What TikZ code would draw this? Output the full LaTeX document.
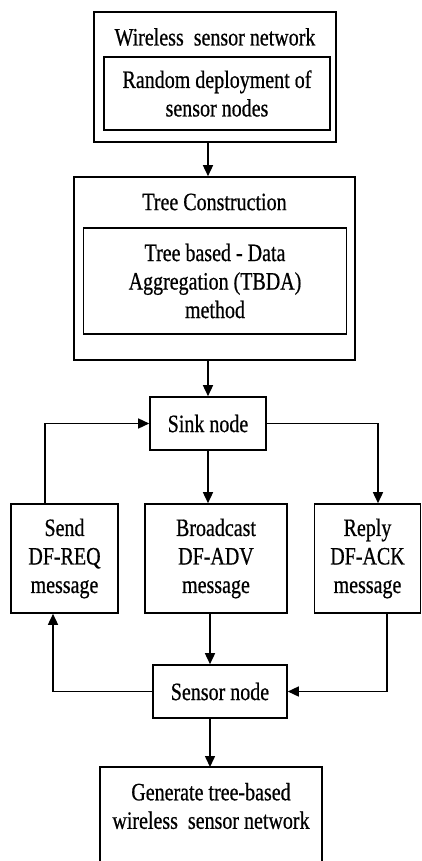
\documentclass[tikz,border=0pt]{standalone}
\usepackage{fontspec}
\setmainfont{Liberation Serif}[FakeStretch=0.8,FakeBold=0.6]
\usetikzlibrary{arrows.meta,positioning,calc}
\begin{document}
\begin{tikzpicture}[x=1pt,y=-1pt,
  box/.style={draw,line width=1.6pt,inner sep=0pt,align=center,font=\fontsize{25}{28.5}\selectfont},
  lbl/.style={inner sep=0pt,align=center,font=\fontsize{25}{28.5}\selectfont},
  arr/.style={line width=1.5pt,-{Triangle[length=11pt,width=10pt]}}]
\useasboundingbox (0,0) rectangle (421,861);
\clip (0,0) rectangle (421,861);
% top group
\node[box,minimum width=242pt,minimum height=130pt] (wsn) at (215,77) {};
\node[lbl] (wsnt) at (215,37) {Wireless~ sensor network};
\node[box,minimum width=226pt,minimum height=73pt] (rand) at (217,93.5) {Random deployment of\\sensor nodes};
% tree construction
\node[box,minimum width=281pt,minimum height=183pt] (tc) at (214.5,268.5) {};
\node[lbl] (tct) at (214.5,202) {Tree Construction};
\node[box,minimum width=263pt,minimum height=106pt] (tbda) at (215,281) {Tree based - Data\\Aggregation (TBDA)\\method};
% middle
\node[box,minimum width=116pt,minimum height=53pt] (sink) at (208,423.5) {Sink node};
\node[box,minimum width=107pt,minimum height=109pt] (send) at (64.5,558.5) {Send\\DF-REQ\\message};
\node[box,minimum width=142pt,minimum height=109pt] (bcast) at (216,558.5) {Broadcast\\DF-ADV\\message};
\node[box,minimum width=106pt,minimum height=109pt] (reply) at (367.5,558.5) {Reply\\DF-ACK\\message};
\node[box,minimum width=134pt,minimum height=53pt] (sensor) at (220,691.5) {Sensor node};
% generate
\coordinate (gentop) at (210,767);
\draw[line width=1.6pt] (100,880) -- (100,767) -- (322,767) -- (322,880);
\node[lbl] (gen) at (211,806) {Generate tree-based\\wireless~ sensor network};
% connectors
\draw[arr] (sink.north |- wsn.south) -- (sink.north |- tc.north);
\draw[arr] (sink.north |- tc.south) -- (sink.north);
\draw[arr] (sink.south) -- (sink.south |- bcast.north);
\draw[arr] ([xshift=-19.5pt]send.north) |- (sink.west);
\draw[arr] (sink.east) -| ([xshift=10.5pt]reply.north);
\draw[arr] ([xshift=-6pt]bcast.south) -- ([xshift=-10pt]sensor.north);
\draw[arr] (sensor.west) -| ([xshift=-11.5pt]send.south);
\draw[arr] ([xshift=19.5pt]reply.south) |- (sensor.east);
\draw[arr] ([xshift=-10pt]sensor.south) -- (gentop);
\end{tikzpicture}
\end{document}
